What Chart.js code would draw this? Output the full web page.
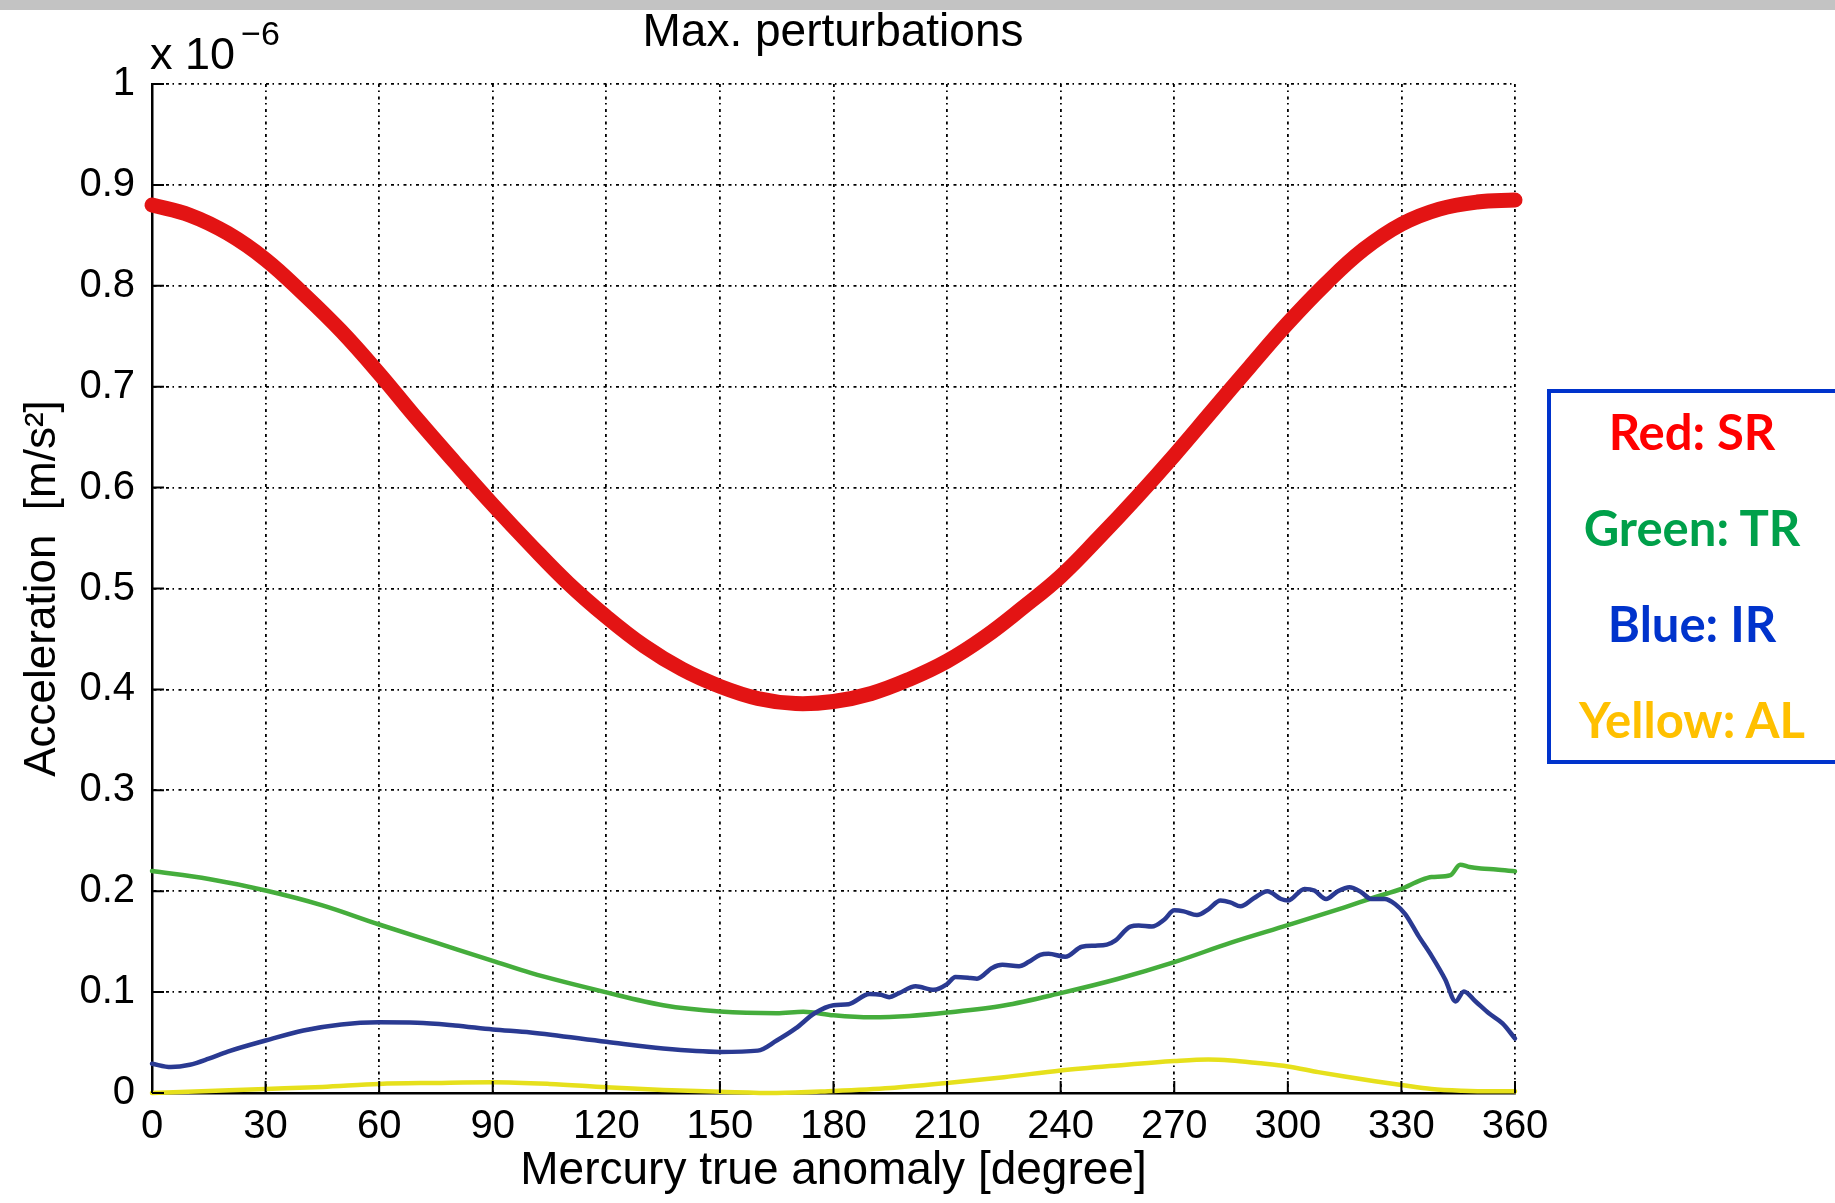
<!DOCTYPE html>
<html>
<head>
<meta charset="utf-8">
<script src="https://cdn.jsdelivr.net/npm/chart.js@4.4.1/dist/chart.umd.min.js"></script>
<style>
  html, body { margin: 0; padding: 0; background: #fff; }
  #wrap { position: relative; width: 1835px; height: 1203px; overflow: hidden; }
  #topbar { position: absolute; left: 0; top: 0; width: 1835px; height: 10px; background: #c3c3c3; }
  #title { position: absolute; left: 633px; width: 400px; top: 3px; text-align: center;
           font-family: "Liberation Sans", Arial, sans-serif; font-size: 46px; color: #000; line-height: 1.2; }
  #scale { position: absolute; left: 150px; top: 24px; font-family: "Liberation Sans", Arial, sans-serif;
           font-size: 45px; color: #000; line-height: 1; white-space: nowrap; }
  #scale sup { font-size: 34px; position: relative; top: -8px; margin-left: 6px; }
  #legend { position: absolute; left: 1547px; top: 389px; width: 292px; height: 375px;
            box-sizing: border-box; border: 4px solid #0033cc; background: #fff;
            font-family: Lato, "Open Sans", sans-serif; font-weight: 700; font-size: 49px; }
  #legend div { position: absolute; left: 0; width: 282px; text-align: center; line-height: 1; }
</style>
</head>
<body>
<div id="wrap">
  <canvas id="chart" width="1835" height="1203"></canvas>
  <div id="topbar"></div>
  <div id="title">Max. perturbations</div>
  <div id="scale">x 10<sup>&minus;6</sup></div>
  <div id="legend">
    <div style="top:14px;color:#ff0000">Red: SR</div>
    <div style="top:110px;color:#00a04a">Green: TR</div>
    <div style="top:206px;color:#0033cc">Blue: IR</div>
    <div style="top:302px;color:#ffc000">Yellow: AL</div>
  </div>
</div>
<script>
// true anomaly [deg] and acceleration [x 1e-6 m/s^2] for each perturbation
var srAngle = [0, 10, 20, 30, 40, 50, 60, 70, 80, 90, 100, 110, 120, 130, 140, 150, 160, 170, 180,
  190, 200, 210, 220, 230, 240, 250, 260, 270, 280, 290, 300, 310, 320, 330, 340, 350, 360];
var srValue = [0.880, 0.870, 0.852, 0.826, 0.792, 0.755, 0.713, 0.668, 0.625, 0.583, 0.543, 0.505, 0.472,
  0.443, 0.420, 0.403, 0.391, 0.386, 0.388, 0.396, 0.410, 0.428, 0.452, 0.481, 0.512, 0.550, 0.590,
  0.632, 0.676, 0.720, 0.763, 0.802, 0.836, 0.861, 0.876, 0.883, 0.885];

var trAngle = [0, 15, 30, 45, 60, 75, 90, 100, 120, 135, 150, 165, 172, 180, 190, 200, 210, 225, 240,
  255, 270, 285, 300, 315, 323, 330, 335, 338, 343, 345.5, 348, 351, 355, 360];
var trValue = [0.220, 0.212, 0.2007, 0.186, 0.167, 0.149, 0.131, 0.119, 0.0997, 0.087, 0.0807, 0.079,
  0.0805, 0.077, 0.075, 0.0763, 0.0797, 0.0867, 0.099, 0.113, 0.1297, 0.149, 0.1663, 0.184, 0.194,
  0.2023, 0.2107, 0.214, 0.216, 0.2263, 0.224, 0.2225, 0.2215, 0.2197];

var irAngle = [0, 5, 10, 15, 20, 30, 40, 50, 60, 70, 80, 90, 100, 120, 135, 150, 160, 165, 170, 175,
  180, 184, 189.5, 192.5, 194.7, 197.3, 201.7, 206.5, 210, 212.2, 216.2, 217.9, 221.9, 224.6, 229,
  231.6, 234.6, 236.8, 241.2, 245.6, 249.1, 252.2, 254.4, 258.4, 260.6, 264.1, 267.4, 270, 272.5,
  276, 279, 282.2, 284.8, 287.5, 291, 294.6, 298.2, 300, 304.4, 307, 310.1, 313.2, 316.3, 319.4,
  322, 325.6, 328.3, 331, 334.5, 338, 341.6, 344.3, 346.5, 349.6, 353.1, 356.7, 360];
var irValue = [0.029, 0.0257, 0.028, 0.034, 0.041, 0.052, 0.062, 0.068, 0.070, 0.0697, 0.067, 0.063,
  0.060, 0.0507, 0.044, 0.0407, 0.042, 0.052, 0.064, 0.079, 0.087, 0.088, 0.098, 0.0973, 0.095, 0.099,
  0.1057, 0.1023, 0.108, 0.115, 0.114, 0.1133, 0.124, 0.127, 0.1257, 0.130, 0.137, 0.138, 0.135, 0.145,
  0.146, 0.147, 0.151, 0.165, 0.166, 0.165, 0.172, 0.181, 0.180, 0.1763, 0.182, 0.1907, 0.189, 0.185,
  0.193, 0.200, 0.1923, 0.1907, 0.2023, 0.2007, 0.1923, 0.200, 0.204, 0.199, 0.1923, 0.1923, 0.1873,
  0.1773, 0.1557, 0.1357, 0.1123, 0.0907, 0.1007, 0.0907, 0.079, 0.069, 0.054];

var alAngle = [0, 15, 30, 45, 60, 75, 90, 105, 120, 135, 150, 165, 180, 195, 210, 225, 240, 255, 270,
  279, 285, 292, 300, 308, 315, 323, 330, 338, 346, 354, 360];
var alValue = [0, 0.002, 0.004, 0.006, 0.009, 0.010, 0.0107, 0.009, 0.0057, 0.003, 0.0013, 0, 0.002,
  0.005, 0.010, 0.0157, 0.0223, 0.0273, 0.0317, 0.0333, 0.0323, 0.0297, 0.0263, 0.0207, 0.0163,
  0.0117, 0.008, 0.004, 0.0023, 0.0017, 0.0017];

var xTicks = { min: 0, max: 360, step: 30 };
var yTicks = { min: 0, max: 1, step: 0.1 };

function points(xs, ys) {
  return xs.map(function(x, i) { return { x: x, y: ys[i] }; });
}

var fontFamily = '"Liberation Sans", Arial, sans-serif';
var axisFont = { family: fontFamily, size: 40 };
var gridDash = [3, 3.5, 1.5, 4.5];

// MATLAB-style tick marks pointing into the plot
var innerTicks = {
  id: 'innerTicks',
  afterDatasetsDraw: function(chart) {
    var ctx = chart.ctx, xs = chart.scales.x, ys = chart.scales.y, a = chart.chartArea;
    ctx.save();
    ctx.strokeStyle = '#000';
    ctx.lineWidth = 2;
    ctx.beginPath();
    xs.ticks.forEach(function(t) {
      var px = xs.getPixelForValue(t.value);
      ctx.moveTo(px, a.bottom);
      ctx.lineTo(px, a.bottom - 12);
    });
    ys.ticks.forEach(function(t) {
      var py = ys.getPixelForValue(t.value);
      ctx.moveTo(a.left, py);
      ctx.lineTo(a.left + 12, py);
    });
    ctx.stroke();
    ctx.restore();
  }
};

var ctx = document.getElementById('chart').getContext('2d');
new Chart(ctx, {
  type: 'line',
  data: {
    datasets: [
      { label: 'SR', data: points(srAngle, srValue), borderColor: '#e31414', borderWidth: 15,
        cubicInterpolationMode: 'default', tension: 0.4 },
      { label: 'IR', data: points(irAngle, irValue), borderColor: '#2a3a92', borderWidth: 4.5 },
      { label: 'TR', data: points(trAngle, trValue), borderColor: '#45ad3c', borderWidth: 4.5 },
      { label: 'AL', data: points(alAngle, alValue), borderColor: '#e6e01c', borderWidth: 4.5 }
    ]
  },
  options: {
    responsive: false,
    animation: false,
    layout: { padding: { left: 0, right: 320, top: 84, bottom: 0 } },
    elements: {
      point: { radius: 0 },
      line: { cubicInterpolationMode: 'monotone', borderCapStyle: 'round', borderJoinStyle: 'round' }
    },
    datasets: { line: { clip: false } },
    plugins: {
      legend: { display: false },
      tooltip: { enabled: false }
    },
    scales: {
      x: {
        type: 'linear',
        min: xTicks.min,
        max: xTicks.max,
        afterFit: function(s) { s.height = 110; },
        ticks: { stepSize: xTicks.step, color: '#000', font: axisFont, padding: 10, maxRotation: 0 },
        grid: { color: '#000', lineWidth: 1.8, drawTicks: false },
        border: { display: true, color: '#000', width: 2.5, dash: gridDash },
        title: {
          display: true,
          text: 'Mercury true anomaly [degree]',
          color: '#000',
          font: { family: fontFamily, size: 46 },
          padding: { bottom: 4 }
        }
      },
      y: {
        type: 'linear',
        min: yTicks.min,
        max: yTicks.max,
        afterFit: function(s) { s.width = 152; },
        ticks: {
          stepSize: yTicks.step, color: '#000', font: axisFont, padding: 17,
          callback: function(v) { return String(+v.toFixed(1)); }
        },
        grid: { color: '#000', lineWidth: 1.8, drawTicks: false },
        border: { display: true, color: '#000', width: 2.5, dash: gridDash },
        title: {
          display: true,
          text: 'Acceleration  [m/s\u00B2]',
          color: '#000',
          font: { family: fontFamily, size: 44 },
          padding: { top: 16 }
        }
      }
    }
  },
  plugins: [innerTicks]
});
</script>
</body>
</html>
